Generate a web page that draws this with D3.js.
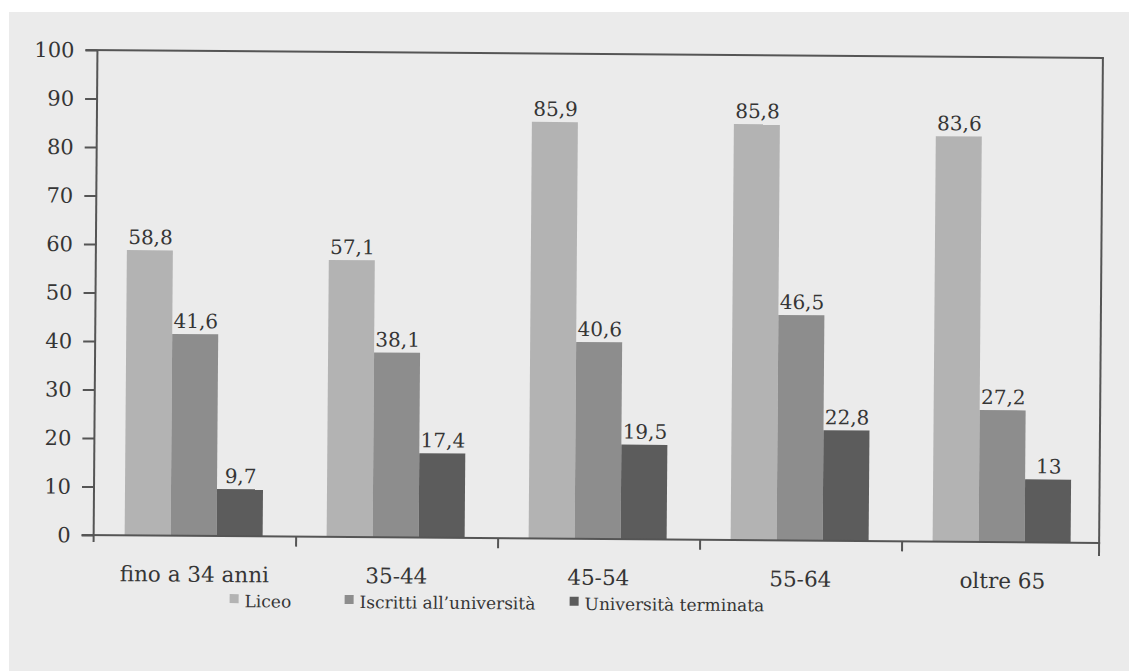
<!DOCTYPE html>
<html>
<head>
<meta charset="utf-8">
<script src="https://cdn.jsdelivr.net/npm/d3@7"></script>
<style>
  html, body { margin: 0; padding: 0; background: #ffffff; }
  svg { display: block; }
  text { font-family: "DejaVu Serif", "Liberation Serif", serif; fill: #353535; }
</style>
</head>
<body>
<svg id="chart" width="1129" height="671"></svg>
<script>
const categories = ["fino a 34 anni", "35-44", "45-54", "55-64", "oltre 65"];
const seriesNames = ["Liceo", "Iscritti all\u2019università", "Università terminata"];
const liceo = [58.8, 57.1, 85.9, 85.8, 83.6];
const iscritti = [41.6, 38.1, 40.6, 46.5, 27.2];
const terminata = [9.7, 17.4, 19.5, 22.8, 13];
const yTicks = [0, 10, 20, 30, 40, 50, 60, 70, 80, 90, 100];
const colors = ["#b3b3b3", "#8d8d8d", "#5c5c5c"];

const seriesValues = [liceo, iscritti, terminata];
const data = categories.map((c, i) => ({
  cat: c,
  vals: seriesNames.map((s, j) => ({ key: s, value: seriesValues[j][i], idx: j }))
}));

const svg = d3.select("#chart");
// paper background
svg.append("rect").attr("x", 9).attr("y", 12).attr("width", 1120).attr("height", 659).attr("fill", "#ebebeb");

const g = svg.append("g").attr("transform", "rotate(0.45 600 300)");

const pLeft = 95.5, pRight = 1101, pTop = 54, pBottom = 539;
const x0 = d3.scaleBand().domain(categories).range([94.5, 1104.5]).paddingInner(0).paddingOuter(0);
const x1 = d3.scaleBand().domain(seriesNames).range([32, 170]).padding(0);
const y = d3.scaleLinear().domain([0, 100]).range([pBottom, pTop]);
const fmt = d3.formatLocale({ decimal: ",", thousands: ".", grouping: [3], currency: ["", "€"] }).format("~");

// bars
const groups = g.selectAll("g.grp").data(data).join("g").attr("class", "grp")
  .attr("transform", d => `translate(${x0(d.cat)},0)`);
groups.selectAll("rect").data(d => d.vals).join("rect")
  .attr("x", d => x1(d.key))
  .attr("width", x1.bandwidth())
  .attr("y", d => y(d.value))
  .attr("height", d => y(0) - y(d.value))
  .attr("fill", d => colors[d.idx]);
groups.selectAll("text.val").data(d => d.vals).join("text").attr("class", "val")
  .attr("x", d => x1(d.key) + x1.bandwidth() / 2 + 0.5)
  .attr("y", d => y(d.value) - 6)
  .attr("text-anchor", "middle")
  .attr("font-size", 20)
  .text(d => fmt(d.value));

// frame & axes
const lc = "#555555", lw = 2;
const axisY = d3.axisLeft(y).tickValues(yTicks).tickSize(12).tickFormat(d => d);
const ay = g.append("g").attr("transform", `translate(${pLeft},0)`).call(axisY);
ay.select(".domain").remove();
ay.selectAll(".tick line").attr("stroke", lc).attr("stroke-width", lw);
ay.selectAll(".tick text").attr("font-size", 21)
  .attr("x", -23).attr("dy", "0.33em").attr("fill", "#3a3a3a")
  .style("font-family", "'DejaVu Serif', serif");

g.append("line").attr("x1", pLeft).attr("x2", pLeft).attr("y1", pTop).attr("y2", pBottom + 7)
  .attr("stroke", lc).attr("stroke-width", lw);
g.append("line").attr("x1", pLeft - 12).attr("x2", pRight + 1).attr("y1", pTop).attr("y2", pTop)
  .attr("stroke", lc).attr("stroke-width", lw);
g.append("line").attr("x1", pLeft - 12).attr("x2", pRight + 1).attr("y1", pBottom).attr("y2", pBottom)
  .attr("stroke", lc).attr("stroke-width", lw);
g.append("line").attr("x1", pRight).attr("x2", pRight).attr("y1", pTop).attr("y2", pBottom + 13)
  .attr("stroke", lc).attr("stroke-width", lw);
// x ticks at band boundaries
g.selectAll("line.xt").data(categories.slice(1)).join("line").attr("class", "xt")
  .attr("x1", d => x0(d) + 1.5).attr("x2", d => x0(d) + 1.5)
  .attr("y1", pBottom).attr("y2", pBottom + 10)
  .attr("stroke", lc).attr("stroke-width", lw);
// x labels
g.selectAll("text.xl").data(categories).join("text").attr("class", "xl")
  .attr("x", d => x0(d) + x0.bandwidth() / 2 + 1)
  .attr("y", 585)
  .attr("text-anchor", "middle")
  .attr("font-size", 21.5)
  .text(d => d);

// legend
const legendX = [232, 347, 572];
const lg = g.selectAll("g.leg").data(seriesNames).join("g").attr("class", "leg")
  .attr("transform", (d, i) => `translate(${legendX[i]},610)`);
lg.append("rect").attr("x", 0).attr("y", -13).attr("width", 9).attr("height", 9)
  .attr("fill", (d, i) => colors[i]);
lg.append("text").attr("x", 15).attr("y", 0).attr("font-size", 17).text(d => d);
</script>
</body>
</html>
